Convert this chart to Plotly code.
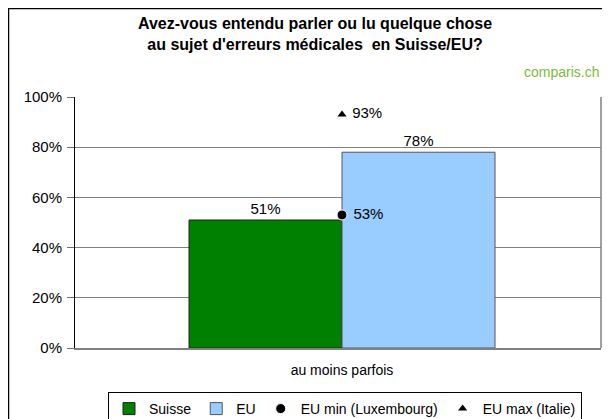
import plotly.graph_objects as go

categories = ["au moins parfois"]
suisse = [0.51]
eu = [0.78]
eu_min = [0.53]
eu_max = [0.93]
y_ticks = [0, 0.2, 0.4, 0.6, 0.8, 1.0]
y_tick_labels = ["0%", "20%", "40%", "60%", "80%", "100%"]

FONT = "Liberation Sans, Arial, sans-serif"

fig = go.Figure()
fig.add_trace(go.Bar(
    x=categories, y=suisse, name="Suisse",
    marker=dict(color="#008000", line=dict(color="#222222", width=1)),
    text=[f"{v:.0%}" for v in suisse], textposition="outside",
    textfont=dict(size=15, color="black"), cliponaxis=False,
))
fig.add_trace(go.Bar(
    x=categories, y=eu, name="EU",
    marker=dict(color="#99CCFF", line=dict(color="#555555", width=1)),
    text=[f"{v:.0%}" for v in eu], textposition="outside",
    textfont=dict(size=15, color="black"), cliponaxis=False,
))
fig.add_trace(go.Scatter(
    x=categories, y=eu_min, name="EU min (Luxembourg)", mode="markers+text",
    marker=dict(symbol="circle", size=10, color="black", line=dict(color="white", width=1)),
    text=[f" {v:.0%}" for v in eu_min], textposition="middle right",
    textfont=dict(size=15, color="black"), cliponaxis=False,
))
fig.add_trace(go.Scatter(
    x=categories, y=eu_max, name="EU max (Italie)", mode="markers+text",
    marker=dict(symbol="triangle-up", size=8, color="black"),
    text=[f" {v:.0%}" for v in eu_max], textposition="middle right",
    textfont=dict(size=15, color="black"), cliponaxis=False,
))

# The page body adds an 8px margin; the figure is sized so it fits the window.
OFF = 8
W, H = 610 - OFF, 419 - OFF
L, T = 75 - OFF, 97 - OFF
R = W - (601 - OFF)
B = H - (348 - OFF)
pw = W - L - R
ph = H - T - B

def px_x(sx):
    return (sx - OFF - L) / pw

def px_y(sy):
    return (H - B - (sy - OFF)) / ph

fig.update_layout(
    width=W, height=H,
    margin=dict(l=L, r=R, t=T, b=B, pad=0, autoexpand=False),
    paper_bgcolor="white", plot_bgcolor="white",
    font=dict(family=FONT, size=15, color="black"),
    barmode="group", bargap=0.427, bargroupgap=0,
    showlegend=True,
    legend=dict(
        orientation="h", x=px_x(345), xanchor="center", y=px_y(392), yanchor="top",
        bordercolor="black", borderwidth=1, bgcolor="white",
        font=dict(size=14, family=FONT), itemwidth=30, tracegroupgap=0,
    ),
    xaxis=dict(
        range=[-0.5, 0.485],
        showgrid=False, showline=True, linecolor="#808080", linewidth=2,
        ticks="", tickfont=dict(size=14), ticklabelstandoff=8,
        fixedrange=True, automargin=False,
    ),
    yaxis=dict(
        range=[0, 1], tickvals=y_ticks, ticktext=y_tick_labels,
        showgrid=True, gridcolor="#808080", gridwidth=1,
        showline=True, linecolor="black", linewidth=1,
        ticks="outside", ticklen=7, tickcolor="#707070",
        tickfont=dict(size=15), ticklabelstandoff=2,
        zeroline=False, fixedrange=True, automargin=False,
    ),
    shapes=[
        dict(type="rect", xref="paper", yref="paper",
             x0=px_x(8.5), x1=px_x(640), y0=px_y(460), y1=px_y(8.5),
             line=dict(color="black", width=1.5), fillcolor="rgba(0,0,0,0)", layer="below"),
        dict(type="line", xref="paper", yref="paper",
             x0=1, x1=1, y0=0, y1=1, line=dict(color="#808080", width=1.5)),
    ],
    annotations=[
        dict(xref="paper", yref="paper", x=px_x(315), y=px_y(34),
             text="<b>Avez-vous entendu parler ou lu quelque chose<br>au sujet d'erreurs médicales  en Suisse/EU?</b>",
             showarrow=False, font=dict(size=16, family=FONT), align="center",
             xanchor="center", yanchor="middle"),
        dict(xref="paper", yref="paper", x=px_x(601), y=px_y(72),
             text="comparis.ch", showarrow=False,
             font=dict(size=14, family=FONT, color="#7DBA3C"),
             xanchor="right", yanchor="middle"),
    ],
)

fig.write_html("out.html")
